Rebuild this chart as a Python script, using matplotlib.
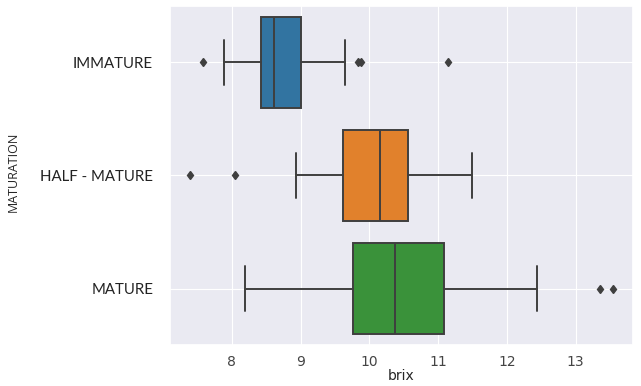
import matplotlib
matplotlib.use("Agg")
import matplotlib.pyplot as plt
import seaborn as sns

categories = ["IMMATURE", "HALF - MATURE", "MATURE"]
whislo = [7.89, 8.93, 8.19]
q1 = [8.43, 9.62, 9.76]
med = [8.62, 10.15, 10.38]
q3 = [9.00, 10.57, 11.09]
whishi = [9.64, 11.49, 12.44]
fliers = [[7.58, 9.84, 9.88, 11.15], [7.39, 8.05], [13.36, 13.55]]
colors = ["#3274a1", "#e1812c", "#3a923a"]

sns.set_theme(style="darkgrid", rc={"grid.linewidth": 0.8})

fig = plt.figure(figsize=(6.41, 3.86), dpi=100)
ax = fig.add_axes([0.265, 0.106, 0.723, 0.879])

stats = []
for i in range(len(categories)):
    stats.append(dict(label=categories[i], whislo=whislo[i], q1=q1[i], med=med[i],
                      q3=q3[i], whishi=whishi[i], fliers=fliers[i]))

gray = "#3f3f3f"
bp = ax.bxp(stats, positions=range(len(categories)), vert=False, widths=0.8,
            patch_artist=True, showfliers=True,
            boxprops=dict(edgecolor=gray, linewidth=1.4),
            medianprops=dict(color=gray, linewidth=1.4),
            whiskerprops=dict(color=gray, linewidth=1.4),
            capprops=dict(color=gray, linewidth=1.4),
            flierprops=dict(marker="d", markerfacecolor=gray, markeredgecolor=gray,
                            markersize=4.5, linestyle="none"),
            capwidths=0.4)
for patch, c in zip(bp["boxes"], colors):
    patch.set_facecolor(c)

ax.set_ylim(2.5, -0.5)
ax.set_xlim(7.1, 13.84)
ax.set_xticks([8, 9, 10, 11, 12, 13])
ax.tick_params(axis="x", labelsize=10, labelcolor="#444444", pad=1)
ax.set_yticks(range(len(categories)))
ax.set_yticklabels(categories, fontfamily="Lato", fontsize=10.8, color="#222222")
ax.tick_params(axis="y", pad=6)
ax.set_xlabel("brix", fontsize=10, labelpad=0)
ax.set_ylabel("MATURATION", fontsize=9, fontfamily="Open Sans")
ax.yaxis.set_label_coords(-0.324, 0.51)

fig.savefig("out.png", dpi=100)
